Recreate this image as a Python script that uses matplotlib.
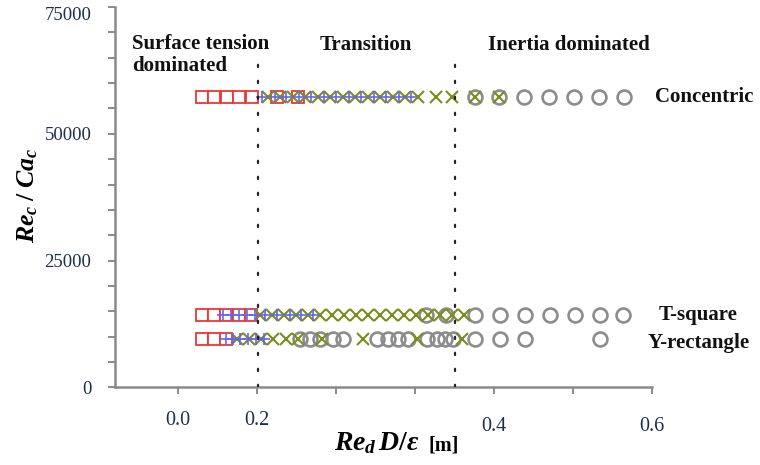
import matplotlib.pyplot as plt

# Flow regime map: Re_c/Ca_c against Re_d D/eps for three junction geometries
plt.rcParams['font.family'] = ['Liberation Serif', 'DejaVu Serif']
plt.rcParams['mathtext.fontset'] = 'custom'
plt.rcParams['mathtext.it'] = 'Liberation Serif:italic:bold'
plt.rcParams['mathtext.rm'] = 'Liberation Serif:bold'
plt.rcParams['mathtext.bf'] = 'Liberation Serif:bold'

# row heights (Re_c / Ca_c)
y_conc = 57200
y_tsq = 14300
y_yrect = 9550

# Concentric
conc_square = [0.030, 0.046, 0.062, 0.077, 0.094, 0.125, 0.152]
conc_plus = [0.106, 0.122, 0.137, 0.153, 0.168, 0.185, 0.200, 0.216, 0.232,
             0.248, 0.263, 0.280, 0.295]
conc_cross = [0.114, 0.129, 0.146, 0.161, 0.177, 0.192, 0.209, 0.224, 0.241,
              0.256, 0.272, 0.287, 0.304, 0.327, 0.347, 0.376, 0.406]
conc_circle = [0.376, 0.406, 0.438, 0.470, 0.501, 0.533, 0.565]

# T-square
tsq_square = [0.030, 0.046, 0.061, 0.077, 0.092]
tsq_plus = [0.057, 0.067, 0.077, 0.087, 0.097, 0.110, 0.125, 0.141, 0.156, 0.171]
tsq_cross = [0.104, 0.119, 0.134, 0.149, 0.165, 0.180, 0.195, 0.210, 0.225,
             0.241, 0.256, 0.271, 0.286, 0.301, 0.316, 0.332, 0.347, 0.362]
tsq_circle = [0.314, 0.339, 0.376, 0.408, 0.439, 0.471, 0.503, 0.534, 0.563]

# Y-rectangle
yr_square = [0.030, 0.046, 0.061]
yr_plus = [0.061, 0.070, 0.078, 0.089, 0.099, 0.109]
yr_cross = [0.075, 0.090, 0.105, 0.120, 0.137, 0.152, 0.182, 0.234, 0.303, 0.359]
yr_circle = [0.154, 0.167, 0.180, 0.196, 0.209, 0.252, 0.266, 0.278, 0.291,
             0.315, 0.328, 0.338, 0.348, 0.376, 0.408, 0.439, 0.534]

regime_bounds = [0.101, 0.351]

fig = plt.figure(figsize=(7.6, 4.65), dpi=100)
ax = fig.add_axes([0.1513, 0.1667, 0.7066, 0.8183])

rows = [
    (y_conc, conc_square, conc_plus, conc_cross, conc_circle),
    (y_tsq, tsq_square, tsq_plus, tsq_cross, tsq_circle),
    (y_yrect, yr_square, yr_plus, yr_cross, yr_circle),
]
for yv, sq, pl, cr, ci in rows:
    ax.plot(sq, [yv] * len(sq), ls='none', marker='s', ms=8.5, mfc='white',
            mec='#ee3535', mew=1.3, zorder=3)
    ax.plot(ci, [yv] * len(ci), ls='none', marker='o', ms=10, mfc='none',
            mec='#8c8c8c', mew=1.9, zorder=4)
    ax.plot(cr, [yv] * len(cr), ls='none', marker='x', ms=8.5,
            mec='#7d8c1e', mew=1.5, zorder=5)
    ax.plot(pl, [yv] * len(pl), ls='none', marker='+', ms=8,
            mec='#6666ee', mew=1.2, zorder=6)

ax.vlines(regime_bounds, 0, 64000, colors='#222222', lw=1.6,
          linestyles=[(0, (1, 6.2))], capstyle='round', zorder=7)

ax.set_xlim(-0.08, 0.6)
ax.set_ylim(0, 75000)

for s in ['top', 'right']:
    ax.spines[s].set_visible(False)
for s in ['left', 'bottom']:
    ax.spines[s].set_color('#8a8a8a')
    ax.spines[s].set_linewidth(1.8)

tick_col = '#1f2d4d'
ax.set_yticks([0, 25000, 50000, 75000])
ax.set_yticks(range(0, 75001, 5000), minor=True)
ax.tick_params(axis='y', which='both', direction='out', length=5, width=1.4,
               color='#8a8a8a', labelsize=13.5, labelcolor=tick_col, pad=12)
ax.get_yticklabels()[-1].set_va('top')

ax.set_xticks([0.0, 0.1, 0.2, 0.3, 0.5])
ax.set_xticklabels(['0.0', '0.2', '', '', ''])
ax.set_xticks([0.4, 0.6], minor=True)
ax.set_xticklabels(['0.4', '0.6'], minor=True)
ax.tick_params(axis='x', which='both', direction='out', length=5, width=1.4,
               color='#8a8a8a', labelsize=14.5, labelcolor=tick_col)
ax.tick_params(axis='x', which='major', pad=12)
ax.tick_params(axis='x', which='minor', pad=16)

txt = dict(fontsize=15, fontweight='bold', color='#111111')
ax.text(-0.058, 69700, 'Surface tension\ndominated', ha='left', va='top',
        linespacing=1.15, **txt)
ax.text(0.237, 67600, 'Transition', ha='center', va='center', **txt)
ax.text(0.495, 67600, 'Inertia dominated', ha='center', va='center', **txt)
ax.text(0.604, 57200, 'Concentric', ha='left', va='center', clip_on=False, **txt)
ax.text(0.608, 14300, 'T-square', ha='left', va='center', clip_on=False, **txt)
ax.text(0.595, 8700, 'Y-rectangle', ha='left', va='center', clip_on=False, **txt)

fig.text(28 / 760, 1 - 195 / 465, r'$Re_c\;/\;Ca_c$', rotation=90,
         ha='center', va='center', fontsize=18.5)
fig.text(420 / 760, 1 - 443 / 465, r'$Re_d\,D/\varepsilon$', ha='right',
         va='center', fontsize=20)
fig.text(428 / 760, 1 - 445 / 465, '[m]', ha='left', va='center',
         fontsize=14.5, fontweight='bold')

fig.savefig('out.png', dpi=100)
